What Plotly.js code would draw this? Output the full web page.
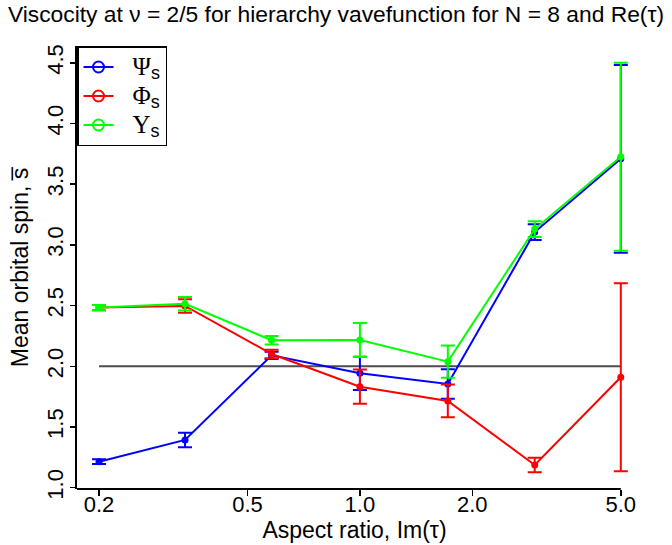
<!DOCTYPE html>
<html>
<head>
<meta charset="utf-8">
<script src="https://cdn.plot.ly/plotly-3.0.1.min.js"></script>
<style>html,body{margin:0;padding:0;background:#fff;}#chart{width:672px;height:545px;}</style>
</head>
<body>
<div id="chart"></div>
<script>
// Aspect ratio values (x)
const aspectRatio = [0.2, 0.34, 0.58, 1.0, 1.72, 2.94, 5.0];
// Psi_s
const psiMean = [1.214, 1.393, 2.09, 1.942, 1.854, 3.105, 3.709];
const psiErr  = [0.02, 0.06, 0.03, 0.137, 0.122, 0.065, 0.773];
// Phi_s
const phiMean = [2.483, 2.497, 2.101, 1.832, 1.714, 1.187, 1.91];
const phiErr  = [0.022, 0.056, 0.035, 0.141, 0.135, 0.06, 0.774];
// Upsilon_s
const upsMean = [2.483, 2.515, 2.214, 2.217, 2.038, 3.13, 3.726];
const upsErr  = [0.022, 0.055, 0.035, 0.14, 0.132, 0.065, 0.774];
// Reference line at s = 2
const refX = [0.2, 5.0];
const refY = [2.0, 2.0];
// Ticks
const xTickVals = [0.2, 0.5, 1.0, 2.0, 5.0];
const xTickText = ['0.2', '0.5', '1.0', '2.0', '5.0'];
const yTickVals = [1.0, 1.5, 2.0, 2.5, 3.0, 3.5, 4.0, 4.5];
const yTickText = ['1.0', '1.5', '2.0', '2.5', '3.0', '3.5', '4.0', '4.5'];
const seriesNames = ['Ψ', 'Φ', 'Υ'];
const seriesColors = ['#0000ff', '#ff0000', '#00ff00'];

const FONT = 'Liberation Sans, Arial, sans-serif';
function series(y, err, color) {
  return {
    x: aspectRatio, y: y, type: 'scatter', mode: 'lines+markers',
    line: {color: color, width: 2},
    marker: {color: color, size: 7, symbol: 'circle'},
    error_y: {type: 'data', array: err, visible: true, color: color, thickness: 2, width: 7},
    cliponaxis: false,
    showlegend: false, hoverinfo: 'x+y'
  };
}
function legendEntry(name, color) {
  return {
    x: [null], y: [null], type: 'scatter', mode: 'lines+markers',
    name: '\u2002\u2009<span style="font-family:Liberation Serif,serif;font-size:25px">' + name +
          '</span><sub><span style="font-size:18px">s</span></sub>',
    line: {color: color, width: 2},
    marker: {color: color, size: 11, symbol: 'circle-open', line: {width: 2, color: color}},
    showlegend: true
  };
}
const xMin = Math.log10(0.1746), xMax = Math.log10(5.0), xPad = 0.03;
const xAxisEnd = (xMax - xMin) / (xMax + xPad - xMin);
const traces = [
  {x: refX, y: refY, type: 'scatter', mode: 'lines', line: {color: '#4d4d4d', width: 2}, showlegend: false, hoverinfo: 'skip'},
  series(psiMean, psiErr, seriesColors[0]),
  series(phiMean, phiErr, seriesColors[1]),
  series(upsMean, upsErr, seriesColors[2]),
  legendEntry(seriesNames[0], seriesColors[0]),
  legendEntry(seriesNames[1], seriesColors[1]),
  legendEntry(seriesNames[2], seriesColors[2])
];
const plotW = 544;
const extraR = Math.round(plotW * xPad / (xMax - xMin));
const layout = {
  width: 672, height: 545,
  margin: {l: 77, r: 51 - extraR, t: 46, b: 56},
  paper_bgcolor: '#fff', plot_bgcolor: '#fff',
  font: {family: FONT, size: 22, color: '#000'},
  title: {text: 'Viscocity at ν = 2/5 for hierarchy vavefunction for N = 8 and Re(τ)',
          x: 0.5, xref: 'container', xanchor: 'center', y: 0.974, yref: 'container', yanchor: 'middle',
          font: {family: FONT, size: 22.8, color: '#000'}},
  xaxis: {
    type: 'log', range: [xMin, xMax + xPad],
    tickvals: xTickVals, ticktext: xTickText,
    showline: false, mirror: false,
    ticks: 'outside', ticklen: 6, tickwidth: 1.5, tickcolor: '#000',
    ticklabelstandoff: -10,
    showgrid: false, zeroline: false,
    tickfont: {family: FONT, size: 22},
    title: {text: 'Aspect ratio, Im(τ)', font: {family: FONT, size: 23}, standoff: 2}
  },
  yaxis: {
    range: [0.989, 4.638],
    tickvals: yTickVals, ticktext: yTickText, tickangle: -90,
    showline: true, linecolor: '#000', linewidth: 2, mirror: false,
    ticks: 'outside', ticklen: 5, tickwidth: 1.5, tickcolor: '#000',
    ticklabelstandoff: -2,
    showgrid: false, zeroline: false,
    tickfont: {family: FONT, size: 22},
    title: {text: 'Mean orbital spin, s\u0305', font: {family: FONT, size: 23}, standoff: 8}
  },
  shapes: [
    {type: 'line', xref: 'paper', yref: 'paper', x0: 0, x1: xAxisEnd, y0: 0, y1: 0,
     line: {color: '#000', width: 2}, layer: 'above'}
  ],
  legend: {
    x: 0, y: 1, xref: 'paper', yref: 'paper', xanchor: 'left', yanchor: 'top',
    bgcolor: '#fff', bordercolor: '#000', borderwidth: 1.5,
    font: {family: FONT, size: 20, color: '#000'},
    tracegroupgap: 0
  }
};
Plotly.newPlot('chart', traces, layout, {displayModeBar: false, staticPlot: true});
</script>
</body>
</html>
